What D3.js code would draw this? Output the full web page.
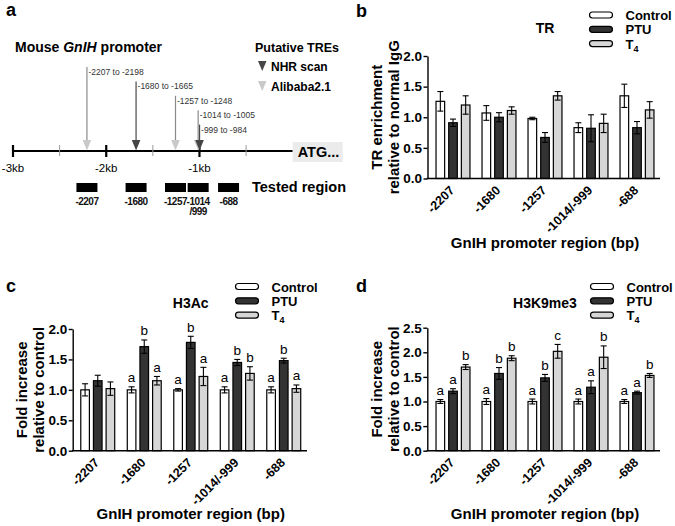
<!DOCTYPE html>
<html>
<head>
<meta charset="utf-8">
<script src="https://cdn.jsdelivr.net/npm/d3@7/dist/d3.min.js"></script>
<style>
  html, body { margin: 0; padding: 0; background: #fff; }
  svg { display: block; }
  text { font-family: "Liberation Sans", Arial, Helvetica, sans-serif; }
</style>
</head>
<body>
<svg id="chart" width="675" height="526"></svg>
<script>
// ---------------- DATA ----------------
const categories = ["-2207", "-1680", "-1257", "-1014/-999", "-688"];
const series = ["Control", "PTU", "T4"];

// Panel b: TR enrichment relative to normal IgG
const trControl = [1.26, 1.07, 0.98, 0.83, 1.35];
const trControlErr = [0.16, 0.12, 0.02, 0.08, 0.19];
const trPTU = [0.91, 1.00, 0.67, 0.82, 0.83];
const trPTUErr = [0.06, 0.075, 0.08, 0.22, 0.10];
const trT4 = [1.20, 1.11, 1.35, 0.90, 1.12];
const trT4Err = [0.15, 0.06, 0.07, 0.15, 0.135];

// Panel c: H3Ac fold increase relative to control
const h3acControl = [1.00, 1.00, 1.00, 1.00, 1.00];
const h3acControlErr = [0.10, 0.05, 0.02, 0.05, 0.05];
const h3acPTU = [1.15, 1.71, 1.78, 1.45, 1.48];
const h3acPTUErr = [0.09, 0.11, 0.10, 0.05, 0.04];
const h3acT4 = [1.02, 1.15, 1.22, 1.27, 1.02];
const h3acT4Err = [0.11, 0.07, 0.15, 0.11, 0.06];
const h3acControlSig = ["", "a", "a", "a", "a"];
const h3acPTUSig = ["", "b", "b", "b", "b"];
const h3acT4Sig = ["", "a", "a", "b", "a"];

// Panel d: H3K9me3 fold increase relative to control
const h3k9Control = [1.00, 1.00, 1.00, 1.00, 1.00];
const h3k9ControlErr = [0.04, 0.06, 0.05, 0.05, 0.04];
const h3k9PTU = [1.21, 1.57, 1.48, 1.29, 1.18];
const h3k9PTUErr = [0.05, 0.12, 0.07, 0.13, 0.03];
const h3k9T4 = [1.70, 1.88, 2.02, 1.90, 1.53];
const h3k9T4Err = [0.05, 0.05, 0.14, 0.23, 0.04];
const h3k9ControlSig = ["a", "a", "a", "a", "a"];
const h3k9PTUSig = ["a", "b", "b", "a", "a"];
const h3k9T4Sig = ["b", "b", "c", "b", "b"];

const ticksTo2 = [0, 0.5, 1.0, 1.5, 2.0];
const ticksTo25 = [0, 0.5, 1.0, 1.5, 2.0, 2.5];

// Panel a: promoter map
const kbTicks = [-3000, -2000, -1000];
const kbLabels = ["-3kb", "-2kb", "-1kb"];
const halfKbTicks = [-2500, -1500, -500];
const treStart = [-2207, -1680, -1257, -1014, -999];
const treLabels = ["-2207 to -2198", "-1680 to -1665", "-1257 to -1248", "-1014 to -1005", "-999 to -984"];
const treMethod = ["Alibaba2.1", "NHR scan", "Alibaba2.1", "Alibaba2.1", "NHR scan"];
const regionPos = [-2207, -1680, -1257, -1014, -688];
const regionLabels = [["-2207"], ["-1680"], ["-1257"], ["-1014", "/999"], ["-688"]];

// ---------------- DRAW ----------------
const svg = d3.select("#chart");
const fills = { Control: "#ffffff", PTU: "#333333", T4: "#d6d6d6" };
const FONT = "'Liberation Sans', Arial, sans-serif";

// panel letters
[["a", 6, 16], ["b", 356, 17], ["c", 6, 292], ["d", 356, 292]].forEach(([t, x, y]) => {
  svg.append("text").attr("x", x).attr("y", y).attr("font-size", 18)
     .attr("font-weight", "bold").text(t);
});

// ======== Panel a ========
(function () {
  const g = svg.append("g");
  const x = d3.scaleLinear().domain([-3000, 0]).range([13, 292.7]);
  const lineY = 151;
  const triColor = { "NHR scan": "#454545", "Alibaba2.1": "#c9c9c9" };
  const stemColor = { "NHR scan": "#4a4a4a", "Alibaba2.1": "#8a8a8a" };

  g.append("text").attr("x", 15).attr("y", 52).attr("font-size", 14).attr("font-weight", "bold")
    .call(t => {
      t.append("tspan").text("Mouse ");
      t.append("tspan").attr("font-style", "italic").text("GnIH");
      t.append("tspan").text(" promoter");
    });
  g.append("text").attr("x", 255).attr("y", 52).attr("font-size", 12.5).attr("font-weight", "bold").text("Putative TREs");

  const legendMethods = ["NHR scan", "Alibaba2.1"];
  legendMethods.forEach((m, i) => {
    const yb = 71 + i * 20;
    g.append("path").attr("d", `M258,${yb - 10}L266.5,${yb - 10}L262.25,${yb}Z`).attr("fill", triColor[m]);
    g.append("text").attr("x", 271).attr("y", yb).attr("font-size", 12).attr("font-weight", "bold").text(m);
  });

  // main line
  g.append("line").attr("x1", x(-3000)).attr("x2", x(0)).attr("y1", lineY).attr("y2", lineY)
    .attr("stroke", "#000").attr("stroke-width", 2);
  g.selectAll(".mj").data(kbTicks).join("line")
    .attr("x1", d => x(d)).attr("x2", d => x(d)).attr("y1", lineY - 6).attr("y2", lineY + 6)
    .attr("stroke", "#000").attr("stroke-width", 2.2);
  g.selectAll(".mn").data(halfKbTicks).join("line")
    .attr("x1", d => x(d)).attr("x2", d => x(d)).attr("y1", lineY - 6).attr("y2", lineY + 5)
    .attr("stroke", "#999").attr("stroke-width", 1);
  g.selectAll(".kbl").data(kbTicks).join("text")
    .attr("x", d => x(d)).attr("y", 172).attr("text-anchor", "middle").attr("font-size", 11.5)
    .text((d, i) => kbLabels[i]);

  // ATG box
  g.append("rect").attr("x", x(0)).attr("y", 142).attr("width", 50).attr("height", 20).attr("fill", "#ebebeb");
  g.append("text").attr("x", x(0) + 5).attr("y", 157).attr("font-size", 14.5).attr("font-weight", "bold").text("ATG...");

  // TRE arrows
  treStart.forEach((bp, i) => {
    const cx = x(bp);
    const base = 75 + i * 14.4;
    const m = treMethod[i];
    g.append("line").attr("x1", cx).attr("x2", cx).attr("y1", base - 8).attr("y2", 141)
      .attr("stroke", stemColor[m]).attr("stroke-width", 1.2);
    g.append("path").attr("d", `M${cx - 4.3},140L${cx + 4.3},140L${cx},150.5Z`).attr("fill", triColor[m]);
    g.append("text").attr("x", cx + 1.5).attr("y", base).attr("font-size", 8.5).attr("fill", "#333")
      .text(treLabels[i]);
  });

  // tested regions
  regionPos.forEach((bp, i) => {
    const cx = x(bp);
    g.append("rect").attr("x", cx - 10.5).attr("y", 183).attr("width", 21).attr("height", 9).attr("fill", "#000");
    regionLabels[i].forEach((l, j) => {
      g.append("text").attr("x", cx).attr("y", 205 + j * 10).attr("text-anchor", "middle")
        .attr("font-size", 10).attr("font-weight", "bold").attr("letter-spacing", -0.5)
        .attr("fill", "#111").text(l);
    });
  });
  g.append("text").attr("x", 252).attr("y", 192).attr("font-size", 14.5).attr("font-weight", "bold").text("Tested region");
})();

// ======== Bar panels ========
function barPanel(opt) {
  const g = svg.append("g");
  const x0 = d3.scaleBand().domain(categories).range(opt.xRange).padding(0);
  const x1 = d3.scaleBand().domain(series).range([-19, 19]).paddingInner(0.32).paddingOuter(0.16);
  const y = d3.scaleLinear().domain([0, d3.max(opt.ticks)]).range([opt.y0, opt.yTop]);

  // bars
  series.forEach(s => {
    const vals = opt.values[s], errs = opt.errors[s];
    categories.forEach((c, i) => {
      const cx = x0(c) + x0.bandwidth() / 2;
      const bx = cx + x1(s);
      g.append("rect").attr("x", bx).attr("y", y(vals[i])).attr("width", x1.bandwidth())
        .attr("height", y(0) - y(vals[i])).attr("fill", fills[s]).attr("stroke", "#000").attr("stroke-width", 1.2);
      const mx = bx + x1.bandwidth() / 2;
      const hi = y(vals[i] + errs[i]), lo = y(vals[i] - errs[i]);
      g.append("line").attr("x1", mx).attr("x2", mx).attr("y1", hi).attr("y2", lo).attr("stroke", "#000").attr("stroke-width", 1.1);
      [hi, lo].forEach(yy => g.append("line").attr("x1", mx - 3).attr("x2", mx + 3).attr("y1", yy).attr("y2", yy)
        .attr("stroke", "#000").attr("stroke-width", 1.1));
      if (opt.sig && opt.sig[s][i]) {
        g.append("text").attr("x", mx).attr("y", hi - 4.5).attr("text-anchor", "middle")
          .attr("font-family", "'Liberation Serif', 'Times New Roman', serif").attr("font-size", 13.5)
          .text(opt.sig[s][i]);
      }
    });
  });

  // y axis
  const ay = g.append("g").attr("transform", `translate(${opt.axisX},0)`)
    .call(d3.axisLeft(y).tickValues(opt.ticks).tickSize(4).tickSizeOuter(0).tickPadding(1.5).tickFormat(d3.format(".1f")));
  ay.select(".domain").attr("stroke-width", 1.4);
  ay.selectAll(".tick line").attr("stroke-width", 1.4);
  ay.selectAll(".tick text").attr("font-family", FONT).attr("font-size", 13.5).attr("font-weight", "bold").attr("fill", "#000");

  // x axis line
  g.append("line").attr("x1", opt.axisX - 0.7).attr("x2", opt.xRange[1]).attr("y1", opt.y0).attr("y2", opt.y0)
    .attr("stroke", "#000").attr("stroke-width", 1.4);

  // x tick labels
  categories.forEach(c => {
    const cx = x0(c) + x0.bandwidth() / 2;
    g.append("text").attr("transform", `translate(${cx - 1},${opt.y0 + 9.5}) rotate(-45)`)
      .attr("text-anchor", "end").attr("dy", "0.35em").attr("font-size", 12.5).attr("font-weight", "bold").text(c);
  });

  // titles
  const midX = (opt.xRange[0] + opt.xRange[1]) / 2;
  g.append("text").attr("x", midX).attr("y", opt.titleY).attr("text-anchor", "middle")
    .attr("font-size", 14).attr("font-weight", "bold").text(opt.title);
  g.append("text").attr("x", midX).attr("y", opt.xTitleY).attr("text-anchor", "middle")
    .attr("font-size", 15).attr("font-weight", "bold").text("GnIH promoter region (bp)");
  const cy = (opt.y0 + opt.yTop) / 2;
  opt.yTitle.forEach((t, i) => {
    g.append("text").attr("transform", `translate(${opt.axisX - (i === 0 ? 50.5 : 33.5)},${cy}) rotate(-90)`)
      .attr("text-anchor", "middle").attr("dy", "0.35em").attr("font-size", 15).attr("font-weight", "bold").text(t);
  });

  // legend
  series.forEach((s, i) => {
    const base = opt.legendY + i * 14.3;
    g.append("rect").attr("x", opt.legendX).attr("y", base - 8).attr("width", 23).attr("height", 6)
      .attr("rx", 3).attr("fill", fills[s]).attr("stroke", "#000").attr("stroke-width", 1.2);
    const t = g.append("text").attr("x", opt.legendX + 36).attr("y", base).attr("font-size", 13).attr("font-weight", "bold");
    if (s === "T4") {
      t.append("tspan").text("T");
      t.append("tspan").attr("font-size", 9).attr("dy", 3).text("4");
    } else t.text(s);
  });
}

barPanel({
  xRange: [430, 660], axisX: 427.5, y0: 178.5, yTop: 56, ticks: ticksTo2,
  values: { Control: trControl, PTU: trPTU, T4: trT4 },
  errors: { Control: trControlErr, PTU: trPTUErr, T4: trT4Err },
  title: "TR", titleY: 33, xTitleY: 248, yTitle: ["TR enrichment", "relative to normal IgG"],
  legendX: 589.5, legendY: 20
});

barPanel({
  xRange: [74.5, 307], axisX: 72.7, y0: 450.7, yTop: 329, ticks: ticksTo2,
  values: { Control: h3acControl, PTU: h3acPTU, T4: h3acT4 },
  errors: { Control: h3acControlErr, PTU: h3acPTUErr, T4: h3acT4Err },
  sig: { Control: h3acControlSig, PTU: h3acPTUSig, T4: h3acT4Sig },
  title: "H3Ac", titleY: 308, xTitleY: 519, yTitle: ["Fold increase", "relative to control"],
  legendX: 235.5, legendY: 291.5
});

barPanel({
  xRange: [430, 660], axisX: 427.3, y0: 450.7, yTop: 327.7, ticks: ticksTo25,
  values: { Control: h3k9Control, PTU: h3k9PTU, T4: h3k9T4 },
  errors: { Control: h3k9ControlErr, PTU: h3k9PTUErr, T4: h3k9T4Err },
  sig: { Control: h3k9ControlSig, PTU: h3k9PTUSig, T4: h3k9T4Sig },
  title: "H3K9me3", titleY: 308, xTitleY: 519, yTitle: ["Fold increase", "relative to control"],
  legendX: 590.5, legendY: 291.5
});
</script>
</body>
</html>
